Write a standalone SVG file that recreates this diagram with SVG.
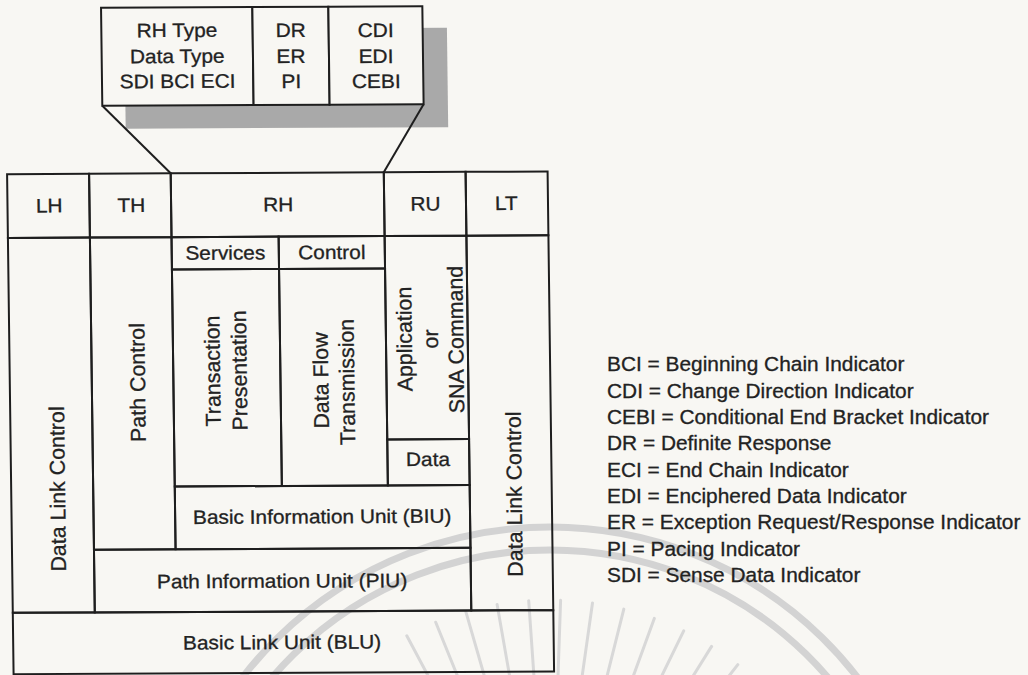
<svg xmlns="http://www.w3.org/2000/svg" width="1028" height="675" viewBox="0 0 1028 675">
<style>
.bx{fill:none;stroke:#1e1e1e;stroke-width:2}
.bxf{fill:#f8f7f3;stroke:#1e1e1e;stroke-width:2}
.ln{fill:none;stroke:#1e1e1e;stroke-width:2}
.t{font-family:"Liberation Sans",Arial,sans-serif;font-size:19.5px;fill:#222;stroke:#222;stroke-width:0.3;text-anchor:middle}
.r{font-family:"Liberation Sans",Arial,sans-serif;font-size:21.4px;fill:#222;stroke:#222;stroke-width:0.3;text-anchor:middle}
.lg{font-family:"Liberation Sans",Arial,sans-serif;font-size:19.5px;fill:#222;stroke:#222;stroke-width:0.3}
.wm{fill:none;stroke:#d3d3d3;stroke-width:7}
.ray{stroke:#d8d8d8;stroke-width:3;stroke-linecap:round}
</style>
<rect x="0" y="0" width="1028" height="675" fill="#f8f7f3"/>
<g id="watermark">
<ellipse class="wm" cx="550" cy="905" rx="385" ry="378"/>
<ellipse class="wm" cx="550" cy="905" rx="362" ry="355"/>
<line class="ray" x1="446.7" y1="710.8" x2="406.8" y2="635.7"/>
<line class="ray" x1="467.6" y1="701" x2="435.7" y2="622.2"/>
<line class="ray" x1="489.4" y1="693.5" x2="465.9" y2="611.8"/>
<line class="ray" x1="511.8" y1="688.3" x2="497.1" y2="604.6"/>
<line class="ray" x1="534.6" y1="685.5" x2="528.7" y2="600.7"/>
<line class="ray" x1="557.7" y1="685.1" x2="560.6" y2="600.2"/>
<line class="ray" x1="580.6" y1="687.1" x2="592.5" y2="603"/>
<line class="ray" x1="603.2" y1="691.5" x2="623.8" y2="609.1"/>
<line class="ray" x1="625.2" y1="698.3" x2="654.3" y2="618.4"/>
<line class="ray" x1="646.4" y1="707.3" x2="683.7" y2="630.9"/>
<line class="ray" x1="666.6" y1="718.4" x2="711.6" y2="646.4"/>
<line class="ray" x1="685.5" y1="731.6" x2="737.8" y2="664.7"/>
</g>
<g id="diagram" transform="matrix(1 -0.005 0.013 1 -5.46 1.4)">
<g id="rh-fields">
<rect x="129.5" y="28.5" width="322.5" height="99.5" fill="#a9a9a9"/>
<rect class="bxf" x="106.4" y="6.9" width="151.3" height="98"/>
<rect class="bxf" x="257.7" y="6.9" width="76" height="98"/>
<rect class="bxf" x="333.7" y="6.9" width="94" height="98"/>
<text class="t" transform="translate(182,36.5) scale(1.07,1)">RH Type</text>
<text class="t" transform="translate(182,62.5) scale(1.07,1)">Data Type</text>
<text class="t" transform="translate(182,87.5) scale(1.07,1)">SDI BCI ECI</text>
<text class="t" transform="translate(295.7,37) scale(1.07,1)">DR</text>
<text class="t" transform="translate(295.7,63) scale(1.07,1)">ER</text>
<text class="t" transform="translate(295.7,88) scale(1.07,1)">PI</text>
<text class="t" transform="translate(380.7,37.5) scale(1.07,1)">CDI</text>
<text class="t" transform="translate(380.7,63.5) scale(1.07,1)">EDI</text>
<text class="t" transform="translate(380.7,88.5) scale(1.07,1)">CEBI</text>
</g>
<g id="connectors">
<line class="ln" x1="106.4" y1="104.9" x2="173.9" y2="172.8"/>
<line class="ln" x1="427.7" y1="104.9" x2="387" y2="172.8"/>
</g>
<g id="lh"><rect class="bx" x="10.3" y="172.8" width="82" height="63.8"/><text class="t" transform="translate(52,211.2) scale(1.07,1)">LH</text></g>
<g id="th"><rect class="bx" x="92.3" y="172.8" width="81.6" height="63.8"/><text class="t" transform="translate(134,211.2) scale(1.07,1)">TH</text></g>
<g id="rh"><rect class="bx" x="173.9" y="172.8" width="213.1" height="63.8"/><text class="t" transform="translate(281,211.2) scale(1.07,1)">RH</text></g>
<g id="ru"><rect class="bx" x="387" y="172.8" width="81.8" height="63.8"/><text class="t" transform="translate(428.3,211.2) scale(1.07,1)">RU</text></g>
<g id="lt"><rect class="bx" x="468.8" y="172.8" width="82" height="63.8"/><text class="t" transform="translate(509,211.2) scale(1.07,1)">LT</text></g>
<g id="dlc-left"><rect class="bx" x="10.3" y="236.6" width="82" height="374.9"/><text class="r" transform="translate(64.1,487.9) rotate(-90)">Data Link Control</text></g>
<g id="path-control"><rect class="bx" x="92.3" y="236.6" width="81.6" height="312.2"/><text class="r" transform="translate(145.5,381.8) rotate(-90)">Path Control</text></g>
<g id="services"><rect class="bx" x="173.9" y="236.6" width="107.1" height="32.4"/><text class="t" transform="translate(227.5,259.3) scale(1.07,1)">Services</text></g>
<g id="control"><rect class="bx" x="281" y="236.6" width="106" height="32.4"/><text class="t" transform="translate(334,259.3) scale(1.07,1)">Control</text></g>
<g id="transaction"><rect class="bx" x="173.9" y="269" width="107.1" height="217"/><text class="r" transform="translate(220.6,370.7) rotate(-90)">Transaction</text><text class="r" transform="translate(247.3,370.3) rotate(-90)">Presentation</text></g>
<g id="dataflow"><rect class="bx" x="281" y="269" width="106" height="217"/><text class="r" transform="translate(328.8,380.7) rotate(-90)">Data Flow</text><text class="r" transform="translate(354.8,382.4) rotate(-90)">Transmission</text></g>
<g id="application"><rect class="bx" x="387" y="236.6" width="81.8" height="203.4"/><text class="r" transform="translate(412.8,339.7) rotate(-90)">Application</text><text class="r" transform="translate(439,339.8) rotate(-90)">or</text><text class="r" transform="translate(464.3,340.4) rotate(-90)">SNA Command</text></g>
<g id="data"><rect class="bx" x="387" y="440" width="81.8" height="46"/><text class="t" transform="translate(427.4,466.7) scale(1.07,1)">Data</text></g>
<g id="biu"><rect class="bx" x="173.9" y="486" width="294.9" height="62.8"/><text class="t" transform="translate(320.9,523.5) scale(1.07,1)">Basic Information Unit (BIU)</text></g>
<g id="piu"><rect class="bx" x="92.3" y="548.8" width="376.5" height="62.7"/><text class="t" transform="translate(280,587.7) scale(1.07,1)">Path Information Unit (PIU)</text></g>
<g id="dlc-right"><rect class="bx" x="468.8" y="236.6" width="82" height="374.9"/><text class="r" transform="translate(520.7,495.2) rotate(-90)">Data Link Control</text></g>
<g id="blu"><rect class="bx" x="10.3" y="611.5" width="540.5" height="61.3"/><text class="t" transform="translate(279.2,649) scale(1.07,1)">Basic Link Unit (BLU)</text></g>
</g>
<g id="legend" transform="translate(607,0) scale(1.07,1)">
<text class="lg" x="0" y="371.5">BCI = Beginning Chain Indicator</text>
<text class="lg" x="0" y="397.8">CDI = Change Direction Indicator</text>
<text class="lg" x="0" y="424.1">CEBI = Conditional End Bracket Indicator</text>
<text class="lg" x="0" y="450.4">DR = Definite Response</text>
<text class="lg" x="0" y="476.7">ECI = End Chain Indicator</text>
<text class="lg" x="0" y="503">EDI = Enciphered Data Indicator</text>
<text class="lg" x="0" y="529.3">ER = Exception Request/Response Indicator</text>
<text class="lg" x="0" y="555.6">PI = Pacing Indicator</text>
<text class="lg" x="0" y="581.9">SDI = Sense Data Indicator</text>
</g>
</svg>
